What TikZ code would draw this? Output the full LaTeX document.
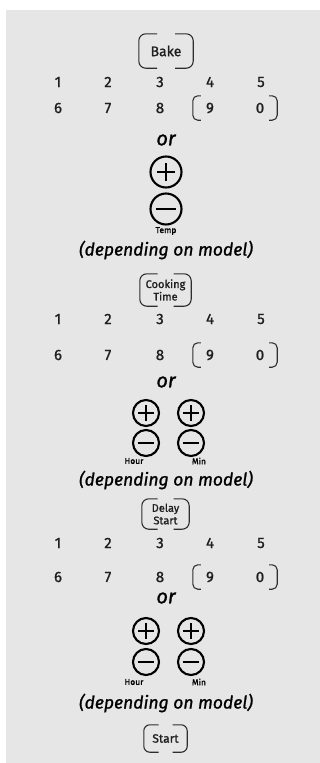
\documentclass[tikz,border=0pt]{standalone}
\usepackage{fontspec}
\setmainfont{Fira Sans}[FakeBold=1.2, ItalicFeatures={FakeBold=1.2}]
\definecolor{panelgray}{HTML}{E6E6E6}
\definecolor{keygray}{HTML}{2E2E2E}

\begin{document}
\begin{tikzpicture}[x=1pt, y=-1pt,
        digit/.style={minimum width=34, minimum height=24, inner sep=0, text=black!88, font=\fontsize{15}{15}\selectfont},
        keytext/.style={inner sep=0, text=black!88, align=center, font=\fontsize{11}{12.5}\selectfont},
        keyline/.style={draw=keygray, line width=1.1, rounded corners=#1},
        ortext/.style={font=\fontsize{20}{20}\itshape\selectfont},
        modeltext/.style={font=\fontsize{17.5}{17.5}\itshape\selectfont},
        smalltext/.style={inner sep=0, font=\fontsize{8.5}{9}\selectfont},
        signline/.style={line width=2, line cap=butt},
        roundbtn/.style={circle, draw, line width=2.1, minimum size=#1, inner sep=0},
        plusbtn/.style={roundbtn=#1, path picture={
            \draw[signline] ([xshift=-#1*0.29]path picture bounding box.center) -- ([xshift=#1*0.29]path picture bounding box.center);
            \draw[signline] ([yshift=-#1*0.29]path picture bounding box.center) -- ([yshift=#1*0.29]path picture bounding box.center);}},
        minusbtn/.style={roundbtn=#1, path picture={
            \draw[signline] ([xshift=-#1*0.32]path picture bounding box.center) -- ([xshift=#1*0.32]path picture bounding box.center);}}]
        \useasboundingbox (0,0) rectangle (320,763);
        \fill[panelgray] (6,10) rectangle (320,763);

        % Bake
        \node[keytext, font=\fontsize{14}{14}\selectfont, minimum width=54, minimum height=34] (bake) at (166,51) {Bake};
        \draw[keyline=7] ([xshift=-9]bake.north) -| (bake.south west) -- ([xshift=-9]bake.south);
        \draw[keyline=7] ([xshift=9]bake.north) -| (bake.south east) -- ([xshift=9]bake.south);

        \node[digit] (a1) at (58,82) {1};
        \node[digit] (a2) at (108,82) {2};
        \node[digit] (a3) at (160,82) {3};
        \node[digit] (a4) at (210,82) {4};
        \node[digit] (a5) at (261,82) {5};
        \node[digit] (a6) at (58,108) {6};
        \node[digit] (a7) at (108,108) {7};
        \node[digit] (a8) at (160,108) {8};
        \node[digit] (a9) at (210,108) {9};
        \node[digit] (a0) at (260,108) {0};
        \draw[keyline=5] ([xshift=8]a9.north west) -| (a9.south west) -- ([xshift=8]a9.south west);
        \draw[keyline=5] ([xshift=-8]a0.north east) -| (a0.south east) -- ([xshift=-8]a0.south east);

        \node[ortext] (orA) at (166,140) {or};
        \node[plusbtn=31] (tempup) at (166,172) {};
        \node[minusbtn=31] (tempdown) at (166,209) {};
        \node[smalltext] (temp) at (166,231) {Temp};
        \node[modeltext] (modelA) at (166,250) {(depending on model)};

        % Cooking Time
        \node[keytext, minimum width=51, minimum height=32] (cook) at (165.5,290) {Cooking\\Time};
        \draw[keyline=7] ([xshift=-8]cook.north) -| (cook.south west) -- ([xshift=-8]cook.south);
        \draw[keyline=7] ([xshift=8]cook.north) -| (cook.south east) -- ([xshift=8]cook.south);

        \node[digit] (b1) at (58,319) {1};
        \node[digit] (b2) at (108,319) {2};
        \node[digit] (b3) at (160,319) {3};
        \node[digit] (b4) at (210,319) {4};
        \node[digit] (b5) at (261,319) {5};
        \node[digit] (b6) at (58,355) {6};
        \node[digit] (b7) at (108,355) {7};
        \node[digit] (b8) at (160,355) {8};
        \node[digit] (b9) at (210,355) {9};
        \node[digit] (b0) at (260,355) {0};
        \draw[keyline=5] ([xshift=8]b9.north west) -| (b9.south west) -- ([xshift=8]b9.south west);
        \draw[keyline=5] ([xshift=-8]b0.north east) -| (b0.south east) -- ([xshift=-8]b0.south east);

        \node[ortext] (orB) at (166,382) {or};
        \node[plusbtn=26] (hourupB) at (146,413) {};
        \node[minusbtn=26] (hourdownB) at (146,443) {};
        \node[plusbtn=26] (minupB) at (191,413) {};
        \node[minusbtn=26] (mindownB) at (191,443) {};
        \node[smalltext] (hourB) at (134,461) {Hour};
        \node[smalltext] (minB) at (199,461) {Min};
        \node[modeltext] (modelB) at (166,480) {(depending on model)};

        % Delay Start
        \node[keytext, minimum width=47, minimum height=30] (delay) at (165.5,514) {Delay\\Start};
        \draw[keyline=7] ([xshift=-8]delay.north) -| (delay.south west) -- ([xshift=-8]delay.south);
        \draw[keyline=7] ([xshift=8]delay.north) -| (delay.south east) -- ([xshift=8]delay.south);

        \node[digit] (c1) at (58,543) {1};
        \node[digit] (c2) at (108,543) {2};
        \node[digit] (c3) at (160,543) {3};
        \node[digit] (c4) at (210,543) {4};
        \node[digit] (c5) at (261,543) {5};
        \node[digit] (c6) at (58,577) {6};
        \node[digit] (c7) at (108,577) {7};
        \node[digit] (c8) at (160,577) {8};
        \node[digit] (c9) at (210,577) {9};
        \node[digit] (c0) at (260,577) {0};
        \draw[keyline=5] ([xshift=8]c9.north west) -| (c9.south west) -- ([xshift=8]c9.south west);
        \draw[keyline=5] ([xshift=-8]c0.north east) -| (c0.south east) -- ([xshift=-8]c0.south east);

        \node[ortext] (orC) at (166,598) {or};
        \node[plusbtn=26] (hourupC) at (146,631) {};
        \node[minusbtn=26] (hourdownC) at (146,662) {};
        \node[plusbtn=26] (minupC) at (191,631) {};
        \node[minusbtn=26] (mindownC) at (191,662) {};
        \node[smalltext] (hourC) at (134,682) {Hour};
        \node[smalltext] (minC) at (199,682) {Min};
        \node[modeltext] (modelC) at (166,703) {(depending on model)};

        % Start
        \node[keytext, font=\fontsize{12}{12}\selectfont, minimum width=43, minimum height=27] (start) at (165.5,738.5) {Start};
        \draw[keyline=6] ([xshift=-7]start.north) -| (start.south west) -- ([xshift=-7]start.south);
        \draw[keyline=6] ([xshift=7]start.north) -| (start.south east) -- ([xshift=7]start.south);
    \end{tikzpicture}
\end{document}
